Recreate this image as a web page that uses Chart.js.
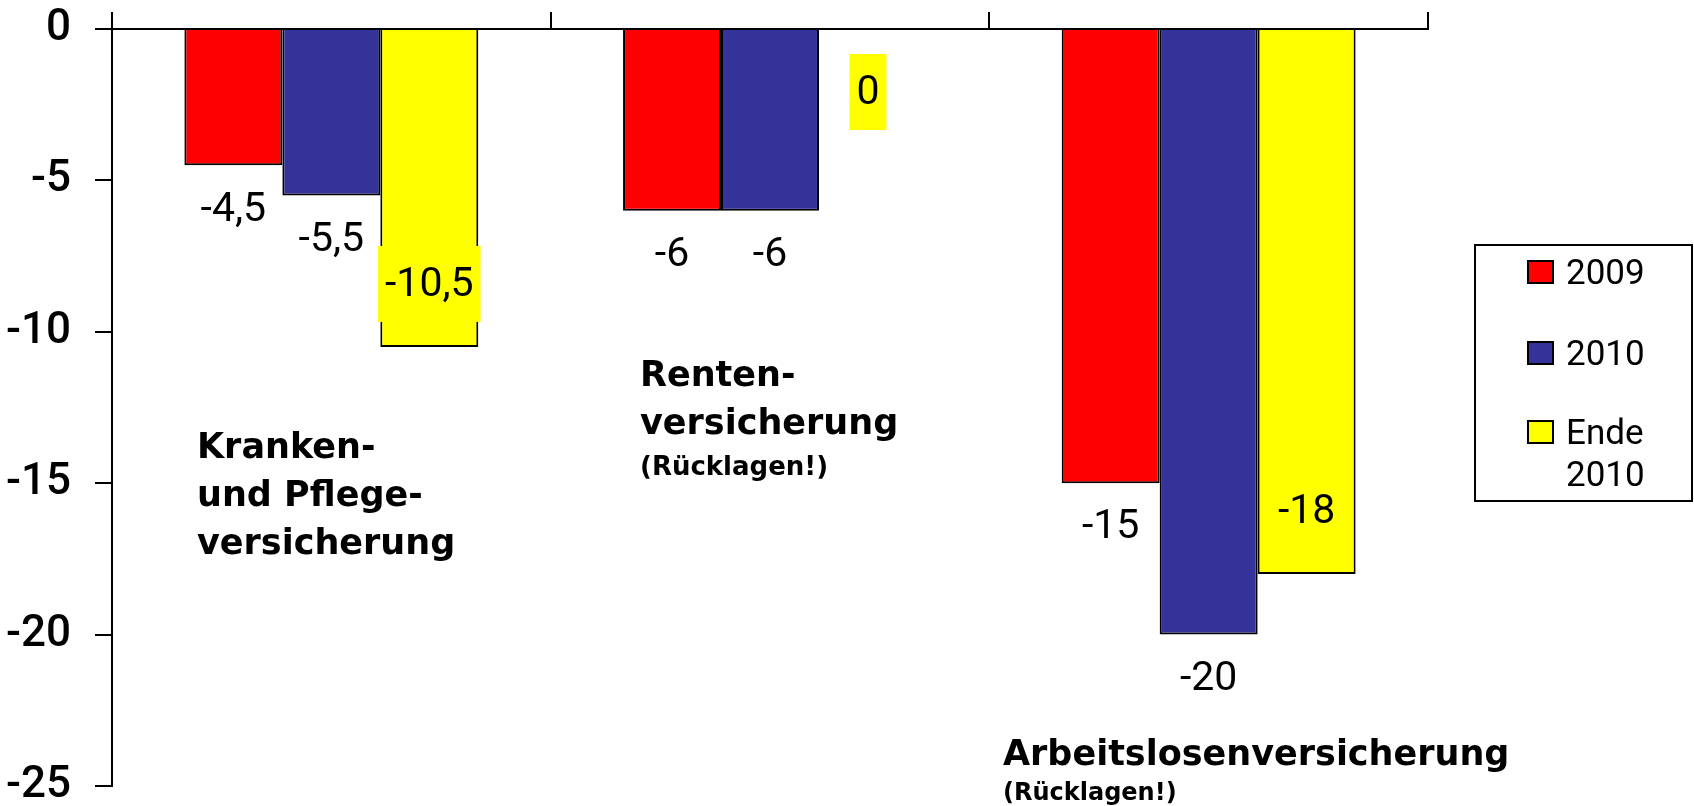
<!DOCTYPE html>
<html>
<head>
<meta charset="utf-8">
<script src="https://cdn.jsdelivr.net/npm/chart.js@4"></script>
<style>
  html, body { margin: 0; padding: 0; background: #fff; }
  #wrap { width: 1694px; height: 806px; }
</style>
</head>
<body>
<div id="wrap"><canvas id="chart"></canvas></div>
<script>
// Daten
const categories = ['Kranken- und Pflegeversicherung', 'Rentenversicherung', 'Arbeitslosenversicherung'];
const seriesNames = ['2009', '2010', 'Ende 2010'];
const values2009 = [-4.5, -6, -15];
const values2010 = [-5.5, -6, -20];
const valuesEnde2010 = [-10.5, 0, -18];
const yTicks = [0, -5, -10, -15, -20, -25];

// Beschriftungen der Kategorien (mehrzeilig) und Zusatz
const categoryLines = [['Kranken-', 'und Pflege-', 'versicherung'], ['Renten-', 'versicherung'], ['Arbeitslosenversicherung']];
const categoryNotes = ['', '(Rücklagen!)', '(Rücklagen!)'];
const legendLines = [['2009'], ['2010'], ['Ende', '2010']];

const RED = '#ff0000', BLUE = '#333399', YELLOW = '#ffff00';
const NUMFONT = 'Roboto, "Liberation Sans", sans-serif';

// Platzierung der Kategorietexte (Pixel im Canvas)
const catPlace = [
  { x: 197, y: 458, gap: 48 },
  { x: 640, y: 386, gap: 48, noteY: 475, noteSize: 26 },
  { x: 1003, y: 765, gap: 48, noteY: 800, noteSize: 24 }
];

function fmt(v) {
  return String(v).replace('.', ',');
}

// Werte an den Balken
const valueLabels = {
  id: 'valueLabels',
  afterDatasetsDraw(chart) {
    const ctx = chart.ctx;
    chart.data.datasets.forEach((ds, di) => {
      const meta = chart.getDatasetMeta(di);
      meta.data.forEach((bar, i) => {
        const v = ds.data[i];
        const text = fmt(v);
        ctx.save();
        ctx.font = '41px ' + NUMFONT;
        ctx.textAlign = 'center';
        ctx.textBaseline = 'middle';
        let y;
        if (di === 2) {
          y = v < 0 ? bar.y - 63 : bar.y + 63;
          const w = ctx.measureText(text).width + 14;
          ctx.fillStyle = YELLOW;
          ctx.fillRect(bar.x - w / 2, y - 38, w, 76);
        } else {
          y = bar.y + 43;
        }
        ctx.fillStyle = '#000';
        ctx.fillText(text, bar.x, y + 2);
        ctx.restore();
      });
    });
  }
};

// Kategorietexte und Legende
const extraText = {
  id: 'extraText',
  afterDraw(chart) {
    const ctx = chart.ctx;
    ctx.save();
    ctx.fillStyle = '#000';
    ctx.textAlign = 'left';
    ctx.textBaseline = 'alphabetic';
    categoryLines.forEach((lines, i) => {
      const p = catPlace[i];
      ctx.font = 'bold 35px "DejaVu Sans", sans-serif';
      lines.forEach((t, k) => ctx.fillText(t, p.x, p.y + k * p.gap));
      if (categoryNotes[i]) {
        ctx.font = 'bold ' + p.noteSize + 'px "DejaVu Sans", sans-serif';
        ctx.fillText(categoryNotes[i], p.x, p.noteY);
      }
    });

    // Legende
    ctx.lineWidth = 2;
    ctx.strokeStyle = '#000';
    ctx.strokeRect(1475, 245, 217, 256);
    const tops = [261, 342, 421];
    chart.data.datasets.forEach((ds, di) => {
      ctx.fillStyle = ds.backgroundColor;
      ctx.fillRect(1528, tops[di], 25, 22);
      ctx.strokeRect(1528, tops[di], 25, 22);
      ctx.fillStyle = '#000';
      ctx.font = '35px ' + NUMFONT;
      legendLines[di].forEach((t, k) => ctx.fillText(t, 1566, tops[di] + 23 + k * 42));
    });
    ctx.restore();
  }
};

new Chart(document.getElementById('chart'), {
  type: 'bar',
  data: {
    labels: categories,
    datasets: [
      { label: seriesNames[0], data: values2009, backgroundColor: RED },
      { label: seriesNames[1], data: values2010, backgroundColor: BLUE },
      { label: seriesNames[2], data: valuesEnde2010, backgroundColor: YELLOW }
    ]
  },
  options: {
    responsive: true,
    maintainAspectRatio: false,
    animation: false,
    datasets: {
      bar: {
        borderColor: '#000',
        borderWidth: 2,
        categoryPercentage: 0.67,
        barPercentage: 1
      }
    },
    layout: { padding: { left: 0, top: 12, right: 266, bottom: 20 } },
    scales: {
      x: {
        position: 'top',
        offset: true,
        z: 1,
        ticks: { display: false },
        grid: { offset: true, drawOnChartArea: false, drawTicks: true, tickLength: 17, color: '#000', lineWidth: 2 },
        border: { display: true, color: '#000', width: 2 },
        afterFit(scale) { scale.height = 17; }
      },
      y: {
        min: -25,
        max: 0,
        z: 1,
        afterBuildTicks(scale) {
          scale.ticks = [...yTicks].sort((a, b) => a - b).map(v => ({ value: v }));
        },
        ticks: {
          color: '#000',
          padding: 24,
          font: { family: NUMFONT, size: 44, weight: '500', lineHeight: 1 },
          callback: v => fmt(v)
        },
        grid: { drawOnChartArea: false, drawTicks: true, tickLength: 17, color: '#000', lineWidth: 2 },
        border: { display: true, color: '#000', width: 2 },
        afterFit(scale) {
          scale.width = 112;
          scale.paddingTop = 0;
          scale.paddingBottom = 0;
        }
      }
    },
    plugins: {
      legend: { display: false },
      tooltip: { enabled: false }
    }
  },
  plugins: [valueLabels, extraText]
});
</script>
</body>
</html>
